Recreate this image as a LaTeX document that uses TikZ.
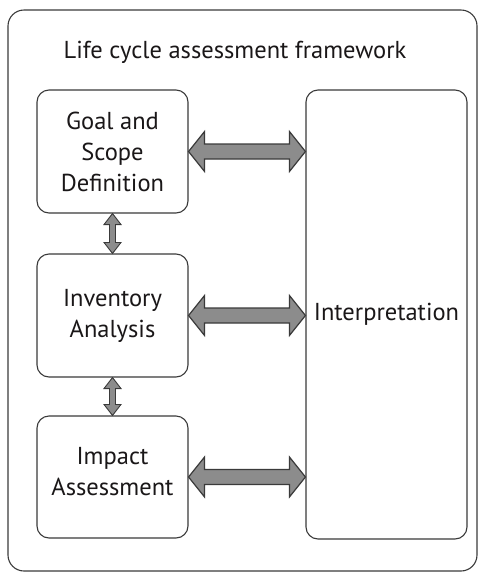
\documentclass[tikz,border=0pt]{standalone}
\usepackage{fontspec}
\setmainfont{PT Sans}
\usepackage{tikz}
\usetikzlibrary{positioning, calc}
\usepackage{xcolor}

\definecolor{inkline}{HTML}{3A3A3A}
\definecolor{inktext}{HTML}{1A1718}
\definecolor{arrowfill}{HTML}{8C8C8C}

\tikzset{
    stagebox/.style={draw=inkline, line width=1.1pt, rounded corners=12pt,
        fill=white, align=center, text=inktext, font=\fontsize{24.5}{31}\selectfont},
    fatarrow/.style={draw=inkline, line width=1.2pt, fill=arrowfill, line join=miter}
}

% fat double arrow, left to right
\newcommand{\hfatarrow}[2]{%
    \draw[fatarrow] let \p1=(#1), \p2=(#2) in
        (\x1,\y1) -- (\x1+16pt,\y1+20pt) -- (\x1+16pt,\y1+7.5pt) -- (\x2-16pt,\y1+7.5pt)
        -- (\x2-16pt,\y1+20pt) -- (\x2,\y1) -- (\x2-16pt,\y1-20pt) -- (\x2-16pt,\y1-7.5pt)
        -- (\x1+16pt,\y1-7.5pt) -- (\x1+16pt,\y1-20pt) -- cycle;}
% thin double arrow, top to bottom
\newcommand{\vfatarrow}[2]{%
    \draw[fatarrow, line width=0.9pt] let \p1=(#1), \p2=(#2) in
        (\x1,\y1) -- (\x1+8.5pt,\y1-11pt) -- (\x1+3pt,\y1-11pt) -- (\x1+3pt,\y2+11pt)
        -- (\x1+8.5pt,\y2+11pt) -- (\x1,\y2) -- (\x1-8.5pt,\y2+11pt) -- (\x1-3pt,\y2+11pt)
        -- (\x1-3pt,\y1-11pt) -- (\x1-8.5pt,\y1-11pt) -- cycle;}

\begin{document}
\begin{tikzpicture}[x=1pt, y=-1pt]
    \useasboundingbox (0,0) rectangle (479,574);

    % Outer frame
    \draw[inkline, line width=1.1pt, rounded corners=16pt] (8,10) rectangle (477,571);
    \node[text=inktext, font=\fontsize{24.5}{29}\selectfont] (title) at (235,52) {Life cycle assessment framework};

    % Stages
    \node[stagebox, minimum width=151pt, minimum height=123pt] (goal) at (112.5,151.5) {Goal and\\Scope\\Definition};
    \node[stagebox, minimum width=151pt, minimum height=123pt] (inventory) at (112.5,315.5) {Inventory\\Analysis};
    \node[stagebox, minimum width=151pt, minimum height=122pt, text depth=12pt] (impact) at (112.5,477) {Impact\\Assessment};
    \node[stagebox, minimum width=161pt, minimum height=449pt] (interp) at (386.5,314.5) {Interpretation};

    % Arrows to interpretation
    \hfatarrow{goal.east}{interp.west |- goal.east}
    \hfatarrow{inventory.east}{interp.west |- inventory.east}
    \hfatarrow{impact.east}{interp.west |- impact.east}

    % Arrows between stages
    \vfatarrow{goal.south}{inventory.north}
    \vfatarrow{inventory.south}{impact.north}
\end{tikzpicture}
\end{document}
